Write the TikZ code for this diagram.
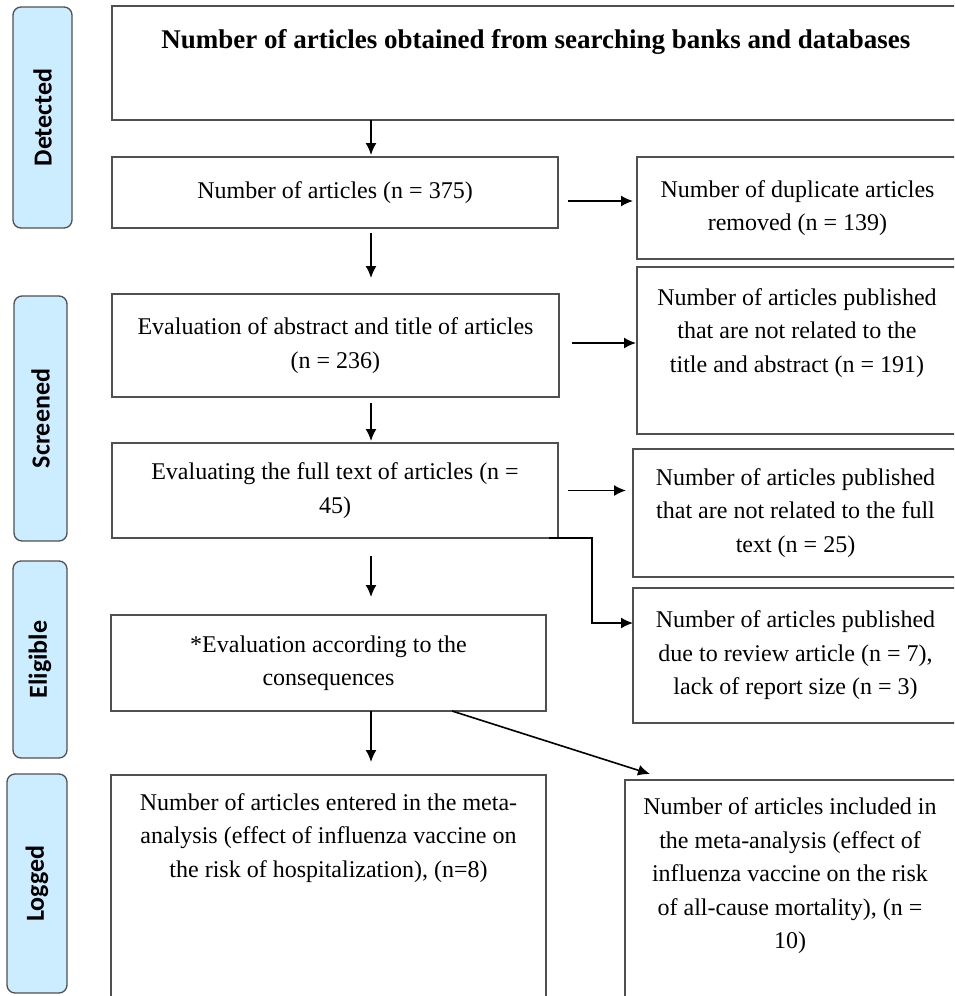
\documentclass[tikz,border=0pt]{standalone}
\usepackage{fontspec}
\setmainfont{Liberation Serif}
\newfontfamily\tabfont{Carlito}
\usepackage{xcolor}
\usetikzlibrary{arrows.meta,calc}
\definecolor{tabblue}{RGB}{204,236,255}
\definecolor{edge}{RGB}{80,80,80}
\tikzset{
  box/.style={draw=edge,line width=1.3pt,anchor=north west,outer sep=0pt,inner sep=0pt,align=center,font=\fontsize{24}{33.5}\selectfont},
  txt/.style={align=center,font=\fontsize{24}{33.5}\selectfont},
  tab/.style={draw=edge,line width=1.3pt,fill=tabblue,rounded corners=8pt,rotate=90,font=\tabfont\bfseries\fontsize{26}{30}\selectfont},
  arr/.style={->,line width=1.6pt}
}

\begin{document}
\begin{tikzpicture}[x=1pt,y=-1pt,>={Latex[length=12pt,width=11pt]}]
\useasboundingbox (0,0) rectangle (954,996);
\clip (0,0) rectangle (954,996);
\foreach \cx/\cy/\w/\h/\lab in {42.5/117.5/59/221/Detected,40.5/418.5/53/245/Screened,40/659.5/54/197/Eligible,37/883.5/60/219/Logged}{
    \node[tab,minimum width=\h pt,minimum height=\w pt] (\lab) at (\cx,\cy) {\lab};
}
\node[box,minimum width=848pt,minimum height=114pt] (search) at (112,6) {};
\node[txt,font=\bfseries\fontsize{27}{32}\selectfont] (searchtxt) at (536,42) {Number of articles obtained from searching banks and databases};
\node[box,minimum width=446pt,minimum height=71pt] (count) at (112,157) {Number of articles (n = 375)};
\node[box,minimum width=321pt,minimum height=102pt] (dup) at (637,157) {Number of duplicate articles\\removed (n = 139)};
\node[box,minimum width=447pt,minimum height=103pt] (abstract) at (112,294) {Evaluation of abstract and title of articles\\(n = 236)};
\node[box,minimum width=321pt,minimum height=167pt] (unrelabs) at (637,267) {};
\node[txt] (unrelabstxt) at (797,333) {Number of articles published\\that are not related to the\\title and abstract (n = 191)};
\node[box,minimum width=446pt,minimum height=95pt] (fulltext) at (112,443) {Evaluating the full text of articles (n =\\45)};
\node[box,minimum width=325pt,minimum height=128pt] (unrelfull) at (633,449) {Number of articles published\\that are not related to the full\\text (n = 25)};
\node[box,minimum width=325pt,minimum height=135pt] (review) at (633,588) {Number of articles published\\due to review article (n = 7),\\lack of report size (n = 3)};
\node[box,minimum width=435pt,minimum height=96pt] (conseq) at (111,615) {*Evaluation according to the\\consequences};
\node[box,minimum width=435pt,minimum height=235pt] (hosp) at (111,775) {};
\node[txt] (hosptxt) at (328.5,838) {Number of articles entered in the meta-\\analysis (effect of influenza vaccine on\\the risk of hospitalization), (n=8)};
\node[box,minimum width=333pt,minimum height=230pt] (mort) at (625,780) {};
\node[txt] (morttxt) at (790,876) {Number of articles included in\\the meta-analysis (effect of\\influenza vaccine on the risk\\of all-cause mortality), (n =\\10)};
\coordinate (ax) at (371,0);
\draw[arr,shorten >=2pt] (search.south -| ax) -- (count.north -| ax);
\draw[arr,shorten <=5pt,shorten >=16pt] (count.south -| ax) -- (abstract.north -| ax);
\draw[arr,shorten <=6pt,shorten >=2pt] (abstract.south -| ax) -- (fulltext.north -| ax);
\draw[arr,shorten <=18pt,shorten >=18pt] (fulltext.south -| ax) -- (conseq.north -| ax);
\draw[arr,shorten >=13pt] (conseq.south -| ax) -- (hosp.north -| ax);
\draw[arr,shorten <=10pt,shorten >=4pt] ([yshift=-8.5pt]count.east) -- ([yshift=-8.5pt]count.east -| dup.west);
\draw[arr,shorten <=13pt,shorten >=1pt] ([yshift=2.5pt]abstract.east) -- ([yshift=2.5pt]abstract.east -| unrelabs.west);
\draw[arr,shorten <=10pt,shorten >=7pt] (fulltext.east) -- (fulltext.east -| unrelfull.west);
\draw[arr] ([xshift=-9pt]fulltext.south east) -| ([xshift=-41pt,yshift=32.5pt]review.west) -- ([yshift=32.5pt]review.west);
\draw[arr] ([xshift=123.5pt]conseq.south) -- ([xshift=25pt,yshift=6pt]mort.north west);
\end{tikzpicture}
\end{document}
